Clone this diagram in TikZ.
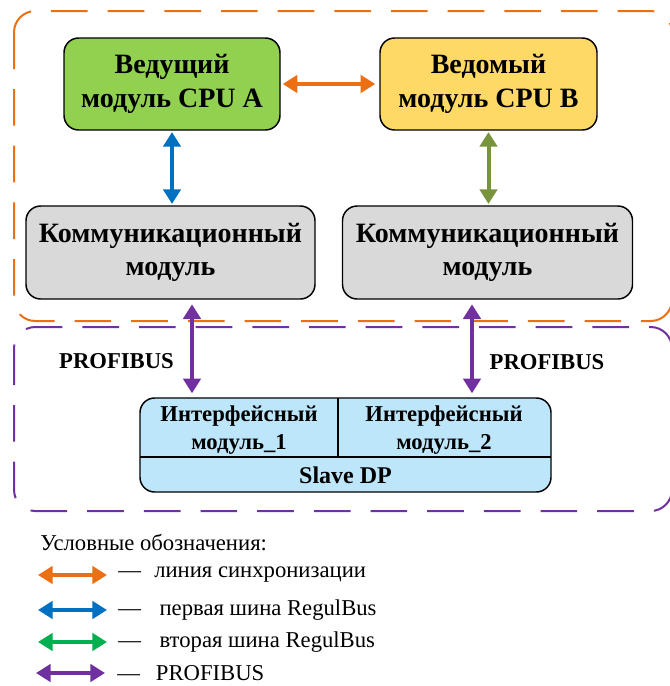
\documentclass[tikz,border=0pt]{standalone}
\usepackage{fontspec}
\setmainfont{Liberation Serif}
\usetikzlibrary{arrows.meta,calc}
\definecolor{cpuA}{RGB}{146,208,80}
\definecolor{cpuB}{RGB}{255,217,102}
\definecolor{commg}{RGB}{217,217,217}
\definecolor{slaveb}{RGB}{190,230,250}
\definecolor{orangeC}{RGB}{235,112,20}
\definecolor{blueC}{RGB}{0,112,192}
\definecolor{oliveC}{RGB}{119,147,60}
\definecolor{greenC}{RGB}{0,176,80}
\definecolor{purpleC}{RGB}{112,48,160}
\tikzset{
  modbox/.style={draw=black, line width=1.1pt, rounded corners=11pt, align=center, inner sep=0pt,
    font=\fontsize{21}{25}\selectfont\bfseries},
  cellbox/.style={align=center, inner sep=0pt, font=\fontsize{17}{21}\selectfont\bfseries},
  busarrow/.style={line width=3pt, {Triangle[length=11pt,width=13pt]}-{Triangle[length=11pt,width=13pt]}},
  groupframe/.style={line width=1.5pt, dash pattern=on 27.5pt off 15pt, rounded corners=16pt},
  legtext/.style={anchor=west, inner sep=0pt, font=\fontsize{17}{20}\selectfont},
  lbl/.style={inner sep=0pt, font=\fontsize{17}{20}\selectfont\bfseries}
}
\begin{document}
\begin{tikzpicture}[x=0.75pt,y=-0.75pt]
\clip (0,0) rectangle (670,686);
\fill[white] (0,0) rectangle (670,686);
% group frames
\draw[groupframe, draw=orangeC] (14,11) rectangle (672,321);
\draw[groupframe, draw=purpleC] (14,327) rectangle (672,511);
% modules
\node[modbox, fill=cpuA, minimum width=162pt, minimum height=69pt] (cpuA) at (172,84) {Ведущий\\модуль CPU A};
\node[modbox, fill=cpuB, minimum width=162.75pt, minimum height=69pt] (cpuB) at (488.5,84) {Ведомый\\модуль CPU B};
\node[modbox, fill=commg, minimum width=216.75pt, minimum height=69.75pt] (comA) at (170.5,252.5) {Коммуникационный\\модуль};
\node[modbox, fill=commg, minimum width=217.5pt, minimum height=69.75pt] (comB) at (487.5,252.5) {Коммуникационный\\модуль};
% slave
\node[draw=black, line width=1.1pt, rounded corners=11pt, fill=slaveb, minimum width=308.25pt, minimum height=70.5pt, inner sep=0pt] (slave) at (345.5,445) {};
\coordinate (divL) at (140,457);
\coordinate (divR) at (551,457);
\coordinate (divT) at (338,398);
\coordinate (divB) at (338,457);
\draw[line width=1pt] (divL) -- (divR);
\draw[line width=1pt] (divT) -- (divB);
\node[cellbox] (if1) at (239,430) {Интерфейсный\\модуль\_1};
\node[cellbox] (if2) at (444,430) {Интерфейсный\\модуль\_2};
\node[cellbox, font=\fontsize{18}{21}\selectfont\bfseries] (sdp) at (345.5,475) {Slave DP};
% connectors
\draw[busarrow, draw=orangeC, fill=orangeC, shorten <=1.5pt, shorten >=3pt] (cpuA.east) -- (cpuB.west);
\draw[busarrow, draw=blueC, fill=blueC, shorten <=1pt, shorten >=1pt] (cpuA.south) -- (cpuA.south |- comA.north);
\draw[busarrow, draw=oliveC, fill=oliveC, shorten <=1pt, shorten >=1pt] (cpuB.south) -- (cpuB.south |- comB.north);
\coordinate (pA) at (192,299);
\coordinate (pB) at (472,299);
\draw[busarrow, draw=purpleC, fill=purpleC, shorten <=4pt, shorten >=3pt] (pA) -- (pA |- slave.north);
\draw[busarrow, draw=purpleC, fill=purpleC, shorten <=4pt, shorten >=3pt] (pB) -- (pB |- slave.north);
\node[lbl] (pl1) at (116.5,361) {PROFIBUS};
\node[lbl] (pl2) at (547,362) {PROFIBUS};
% legend
\node[legtext] (lhead) at (40,543) {Условные обозначения:};
\coordinate (l1a) at (38,575); \coordinate (l1b) at (107,575);
\coordinate (l2a) at (38,610); \coordinate (l2b) at (107,610);
\coordinate (l3a) at (38,642); \coordinate (l3b) at (107,642);
\coordinate (l4a) at (36,673); \coordinate (l4b) at (105,673);
\draw[busarrow, draw=orangeC, fill=orangeC] (l1a) -- (l1b);
\draw[busarrow, draw=blueC, fill=blueC] (l2a) -- (l2b);
\draw[busarrow, draw=greenC, fill=greenC] (l3a) -- (l3b);
\draw[busarrow, draw=purpleC, fill=purpleC] (l4a) -- (l4b);
\node[legtext] (lt1) at (118,575) {—\hspace{10pt}линия синхронизации};
\node[legtext] (lt2) at (118,610) {—\hspace{14pt}первая шина RegulBus};
\node[legtext] (lt3) at (118,642) {—\hspace{14pt}вторая шина RegulBus};
\node[legtext] (lt4) at (117,673) {—\hspace{12pt}PROFIBUS};
\end{tikzpicture}
\end{document}
